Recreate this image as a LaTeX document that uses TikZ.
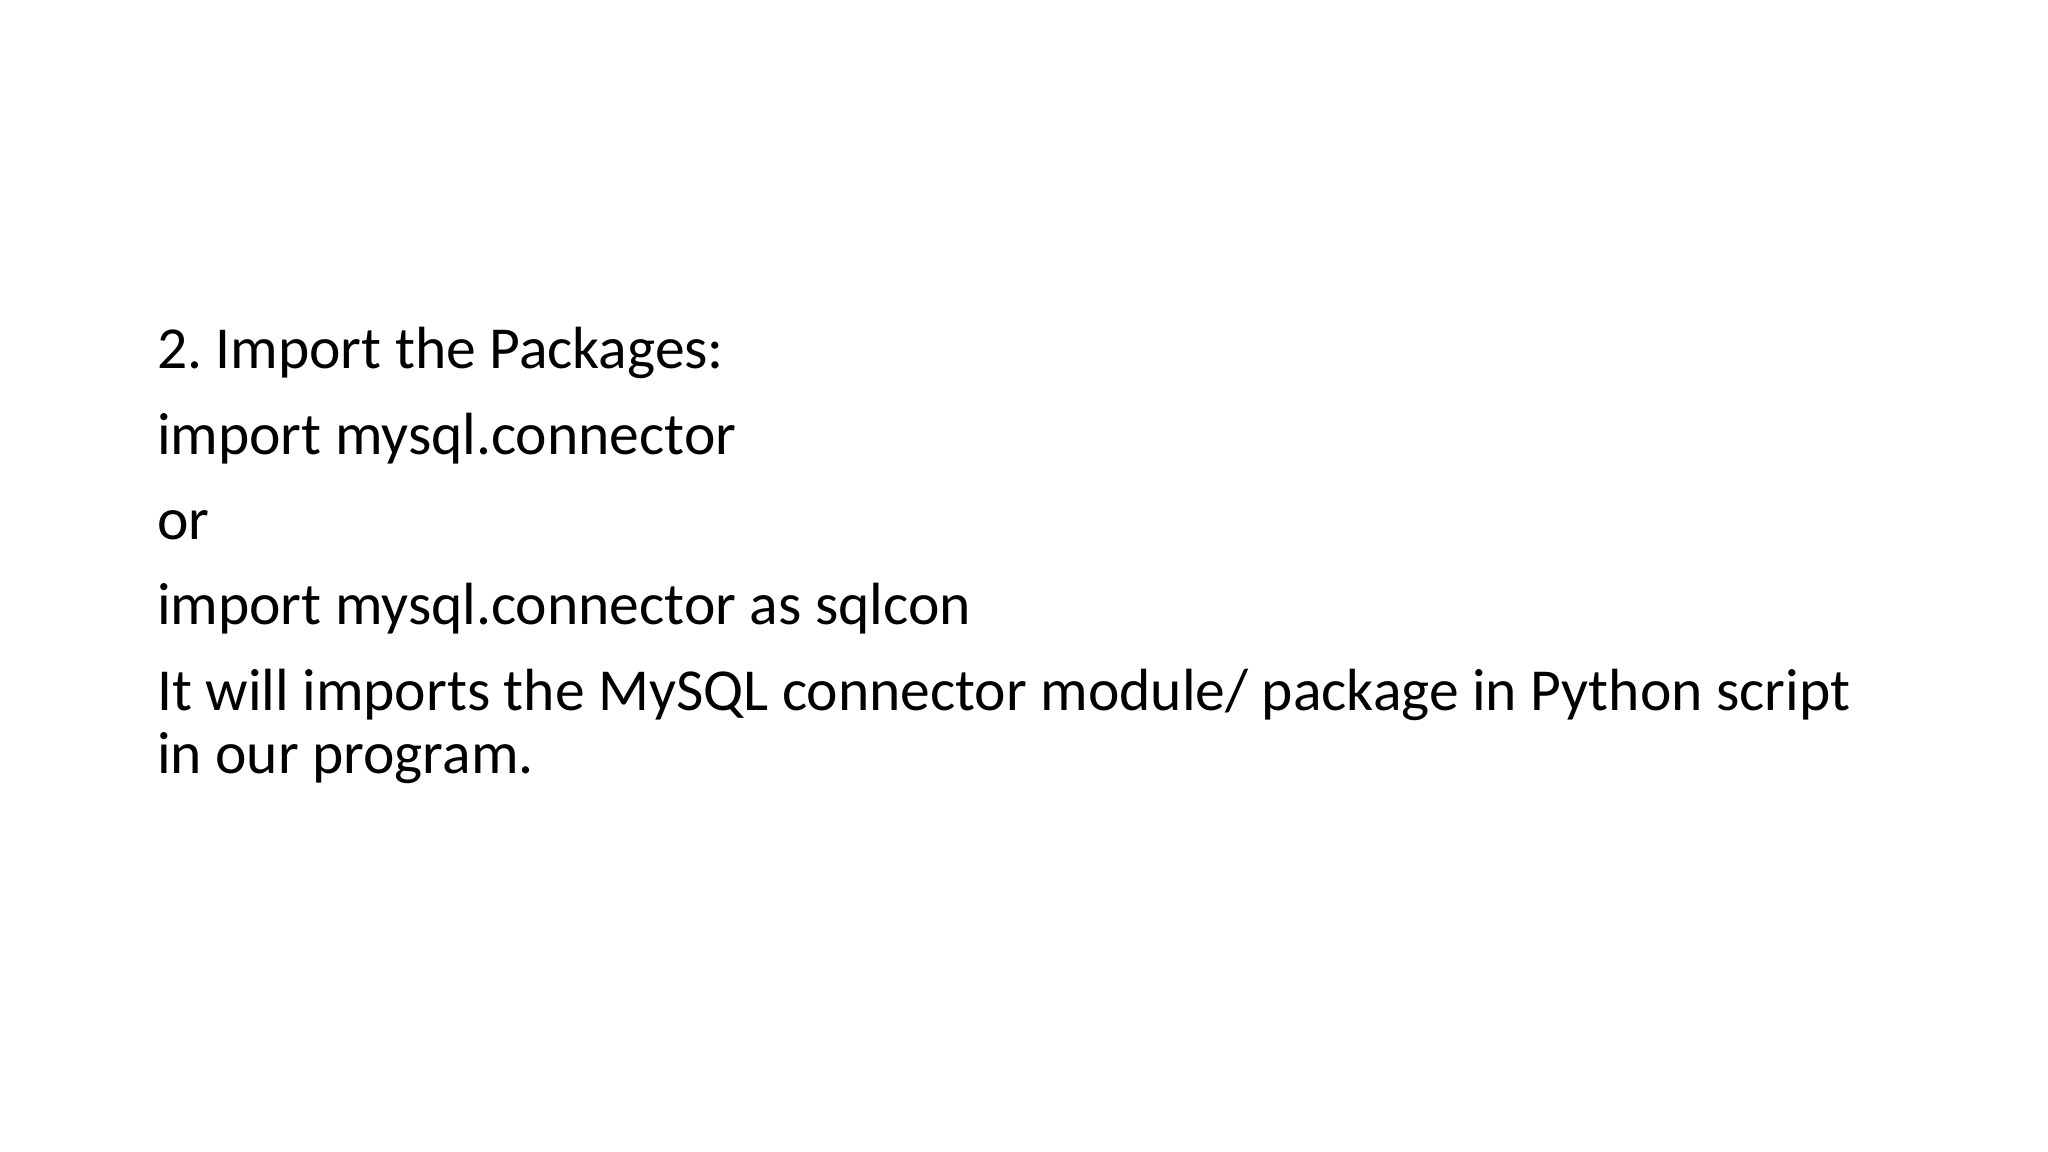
\documentclass[tikz,border=0pt]{standalone}
\usepackage{fontspec}
\setmainfont{Carlito}
\frenchspacing
\usetikzlibrary{positioning}
\tikzset{
  slideline/.style={anchor=base west, inner sep=0, outer sep=0,
    font=\fontsize{16.95pt}{17.9pt}\selectfont, align=left}
}

\begin{document}
\begin{tikzpicture}[x=0.1mm, y=-0.1mm]
  \useasboundingbox[fill=white] (0,0) rectangle (2048,1152);
  \node[slideline] (head)  at (157,369) {2. Import the Packages:};
  \node[slideline] (imp)   at (157,455) {import mysql.connector};
  \node[slideline] (or)    at (157,540) {or};
  \node[slideline] (impas) at (157,625) {import mysql.connector as sqlcon};
  \node[slideline] (note)  at (157,711) {It will imports the MySQL connector module/ package in Python script};
  \node[slideline] (note2) at (157,774) {in our program.};
\end{tikzpicture}
\end{document}
